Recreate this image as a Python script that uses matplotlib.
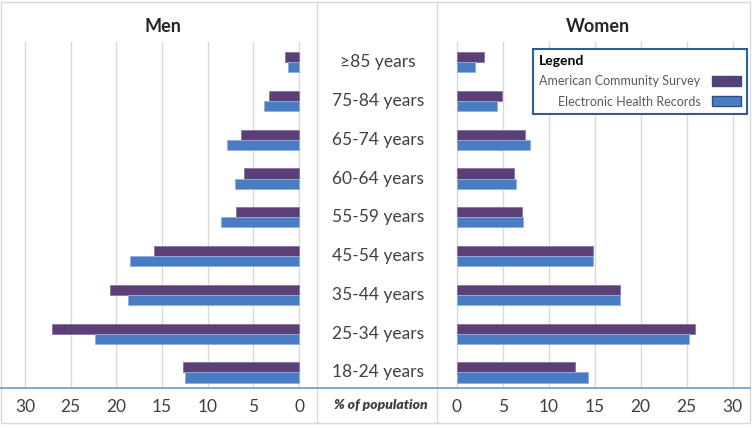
import numpy as np
import matplotlib.pyplot as plt
from matplotlib.patches import Patch, Rectangle
from matplotlib.lines import Line2D

plt.rcParams['font.family'] = ['Lato', 'DejaVu Sans']

# age groups, bottom to top
ages = ['18-24 years', '25-34 years', '35-44 years', '45-54 years', '55-59 years',
        '60-64 years', '65-74 years', '75-84 years', '\u226585 years']

# % of population
men_acs = [12.7, 27.0, 20.7, 15.9, 6.9, 6.0, 6.3, 3.3, 1.5]
men_ehr = [12.45, 22.3, 18.75, 18.5, 8.5, 7.0, 7.9, 3.85, 1.25]
women_acs = [12.9, 25.9, 17.75, 14.8, 7.1, 6.2, 7.45, 4.95, 3.0]
women_ehr = [14.3, 25.25, 17.7, 14.8, 7.25, 6.5, 7.95, 4.4, 2.0]

ticks = [0, 5, 10, 15, 20, 25, 30]
series = ['American Community Survey', 'Electronic Health Records']

purple = '#5d3f78'
blue = '#4a7cc4'
W, H = 755, 428

fig = plt.figure(figsize=(W / 100, H / 100), dpi=100)

def axrect(x0, x1, y0, y1):
    return [x0 / W, 1 - y1 / H, (x1 - x0) / W, (y1 - y0) / H]

ax_m = fig.add_axes(axrect(15, 317, 42, 388))
ax_w = fig.add_axes(axrect(437, 748, 42, 388))

y = np.arange(len(ages))
h = 0.26

for ax, acs, ehr in [(ax_m, men_acs, men_ehr), (ax_w, women_acs, women_ehr)]:
    ax.barh(y + h / 2, acs, height=h, color=purple, edgecolor='#8a74a3', linewidth=0.6, zorder=3)
    ax.barh(y - h / 2, ehr, height=h, color=blue, edgecolor='#8fb0de', linewidth=0.6, zorder=3)
    ax.set_ylim(-0.4, len(ages) - 1 + 0.52)
    ax.set_yticks([])
    ax.set_xticks(ticks)
    ax.set_xticklabels([str(t) for t in ticks], fontsize=12.5, color='#404040')
    ax.tick_params(axis='x', length=0, pad=8)
    ax.grid(axis='x', color='#d9d9d9', linewidth=1, zorder=0)
    for s in ax.spines.values():
        s.set_visible(False)

ax_m.set_xlim(31.1, -1.97)
ax_w.set_xlim(-2.14, 31.66)

fig.text(163 / W, 1 - 26 / H, 'Men', ha='center', va='center', fontsize=13, fontweight='bold', color='#262626')
fig.text(598 / W, 1 - 26 / H, 'Women', ha='center', va='center', fontsize=13, fontweight='bold', color='#262626')

# age labels in the middle column
for i, lab in enumerate(ages):
    ypx = 42 + (len(ages) - 1 + 0.52 - i) / (len(ages) - 1 + 0.92) * 346
    fig.text(378 / W, 1 - ypx / H, lab, ha='center', va='center', fontsize=12.5, color='#404040')

fig.text(381 / W, 1 - 405 / H, '% of population', ha='center', va='center', fontsize=10,
         fontweight='heavy', style='italic', color='#404040')

# frame, dividers and base line
fig.add_artist(Rectangle((1 / W, 1 - 423 / H), 749 / W, 421 / H, transform=fig.transFigure,
                         fill=False, edgecolor='#d9d9d9', linewidth=1))
for xp in [317, 437]:
    fig.add_artist(Line2D([xp / W, xp / W], [1 - 423 / H, 1 - 2 / H], transform=fig.transFigure,
                          color='#d9d9d9', linewidth=1))
fig.add_artist(Line2D([0, 750 / W], [1 - 388 / H, 1 - 388 / H], transform=fig.transFigure,
                      color='#6a9bd0', linewidth=1.2))

# legend
handles = [Patch(facecolor=purple, edgecolor='#2f4f80'), Patch(facecolor=blue, edgecolor='#2f4f80')]
leg = fig.legend(handles, series, loc='upper left', bbox_to_anchor=(533 / W, 1 - 49 / H),
                 borderaxespad=0, markerfirst=False, title='Legend', alignment='left',
                 fontsize=9, title_fontproperties={'weight': 'bold', 'size': 10},
                 fancybox=False, framealpha=1, edgecolor='#2f5d8f', handlelength=2.3,
                 handleheight=0.9, labelspacing=0.65, borderpad=0.5, handletextpad=0.9)
leg.get_frame().set_linewidth(1.5)
for t in leg.get_texts():
    t.set_color('#595959')

plt.savefig('out.png', dpi=100)
